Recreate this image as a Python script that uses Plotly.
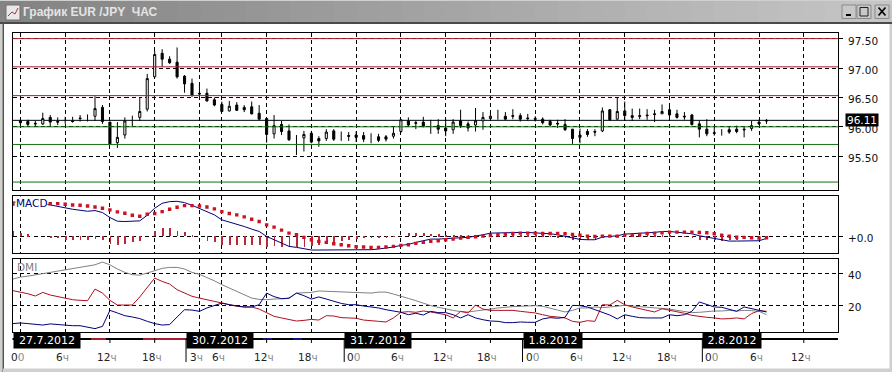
import plotly.graph_objects as go

W, H = 892, 372
title_text = "График EUR /JPY  ЧАС"

# ---------- hourly candles, bar index 0 = 27.7.2012 00:00 ----------
high = [96.13,96.12,96.10,96.24,96.20,96.16,96.17,96.17,96.20,96.21,96.52,96.37,96.08,96.08,96.16,96.19,96.50,96.90,97.29,97.32,
        97.20,97.35,96.88,96.82,96.71,96.65,96.50,96.43,96.44,96.42,96.37,96.43,96.37,96.14,96.20,96.10,96.04,95.86,95.93,95.93,
        95.84,95.96,95.96,95.92,95.91,95.92,95.91,95.89,95.88,95.86,96.00,96.13,96.16,96.10,96.17,96.12,96.13,96.14,96.13,96.29,
        96.09,96.32,96.25,96.26,96.29,96.25,96.30,96.23,96.22,96.18,96.16,96.12,96.12,96.13,95.96,95.97,95.96,95.96,96.33,96.30,
        96.49,96.43,96.31,96.31,96.30,96.29,96.38,96.37,96.29,96.25,96.22,96.10,96.13,95.99,95.96,96.00,96.02,96.00,96.10,96.12,96.13]
open_ = [96.10,96.09,96.06,96.05,96.16,96.09,96.11,96.10,96.15,96.13,96.18,96.33,96.08,95.73,95.86,96.11,96.16,96.30,96.85,97.25,
         97.15,97.10,96.86,96.74,96.57,96.57,96.46,96.38,96.27,96.37,96.33,96.34,96.23,96.14,95.88,96.04,95.93,95.76,95.81,95.89,
         95.80,95.80,95.93,95.86,95.85,95.86,95.85,95.83,95.83,95.83,95.84,95.92,96.10,96.07,96.08,96.06,96.02,95.98,95.95,96.10,
         96.05,96.03,96.10,96.14,96.18,96.18,96.19,96.19,96.15,96.14,96.13,96.09,96.06,96.04,95.96,95.86,95.92,95.92,95.93,96.29,
         96.13,96.27,96.19,96.19,96.20,96.22,96.22,96.29,96.22,96.18,96.20,96.05,95.96,95.90,95.91,95.95,95.96,95.96,95.97,96.08,96.11]
close = [96.07,96.04,96.05,96.14,96.08,96.08,96.10,96.09,96.14,96.12,96.31,96.09,95.71,95.82,96.10,96.10,96.26,96.82,97.23,97.15,
         97.09,96.85,96.73,96.54,96.56,96.44,96.37,96.26,96.35,96.28,96.29,96.22,96.13,95.87,96.02,95.92,95.78,95.75,95.87,95.74,
         95.76,95.91,95.79,95.85,95.84,95.82,95.79,95.82,95.77,95.79,95.89,96.12,96.03,96.06,96.01,96.05,95.96,95.93,96.08,96.02,
         95.98,96.10,96.16,96.18,96.17,96.13,96.18,96.13,96.14,96.13,96.07,96.03,96.05,95.95,95.80,95.82,95.87,95.91,96.27,96.12,
         96.26,96.19,96.16,96.18,96.19,96.21,96.26,96.20,96.16,96.17,96.04,95.96,95.88,95.89,95.90,95.91,95.92,95.95,96.02,96.05,96.10]
low = [96.03,96.01,96.01,96.03,96.01,96.03,96.05,96.07,96.09,96.09,96.10,96.05,95.71,95.64,95.80,96.01,96.10,96.26,96.85,97.02,
       97.07,96.82,96.58,96.51,96.48,96.43,96.35,96.25,96.26,96.27,96.25,96.21,96.12,95.73,95.80,95.86,95.76,95.52,95.58,95.72,
       95.66,95.76,95.76,95.76,95.76,95.74,95.74,95.72,95.74,95.75,95.80,95.90,96.01,95.96,95.99,95.88,95.88,95.84,95.88,95.98,
       95.92,95.92,95.95,96.10,96.12,96.12,96.13,96.09,96.10,96.09,96.04,96.01,95.98,95.93,95.71,95.72,95.83,95.84,95.91,96.10,
       96.12,96.10,96.10,96.13,96.12,96.08,96.22,96.13,96.14,96.12,96.02,95.82,95.84,95.85,95.85,95.88,95.89,95.82,95.93,96.03,96.05]
wick_only = [6, 9, 15, 37, 43, 47, 55, 64, 94]

resistance = [97.50, 97.02, 96.53]
support = [96.00, 95.70, 95.06]
last_price = 96.11
price_ticks = [97.5, 97.0, 96.5, 96.0, 95.5]
price_labels = ["97.50", "97.00", "96.50", "96.00", "95.50"]

# ---------- MACD, bar index -1 to 100, in pips ----------
macd_index = list(range(-1, 101))
macd_line = [103,102,101,99,97,94,89,84,81,78,75,77,71,56,45,44,44,46,63,84,99,104,105,101,93,83,75,64,49,43,37,29,21,14,-1,-11,-21,-31,-34,
             -39,-42,-42,-42,-42,-42,-42,-42,-42,-41,-39,-37,-33,-28,-25,-19,-13,-9,-9,-7,-7,-5,-4,-1,4,9,10,11,11,11,11,10,9,7,4,0,-6,-10,-11,-11,
             -3,-1,1,6,8,8,10,11,14,14,12,11,7,1,-3,-8,-13,-15,-15,-15,-15,-14,-7]
macd_signal = [97,101,101,100,99,98,98,96,94,93,91,88,84,79,73,69,63,60,66,68,74,81,87,92,92,91,88,82,74,68,64,58,51,44,34,27,18,9,4,
               -4,-11,-16,-19,-23,-26,-29,-32,-33,-34,-34,-33,-31,-28,-26,-22,-19,-16,-14,-11,-9,-6,-4,-2,0,2,4,6,8,9,9,9,8,8,8,7,5,3,0,-1,
               0,0,0,3,3,5,8,9,10,12,12,12,12,11,10,7,3,0,-3,-4,-5,-6,-5]
macd_hist = [14,9,6,0,0,-4,-7,-11,-11,-11,-11,-8,-12,-24,-26,-23,-17,-16,0,16,23,25,16,12,4,0,-14,-19,-27,-28,-28,-28,-28,-27,-33,-31,-33,-33,-33,
             -33,-31,-26,-23,-19,-16,-11,-9,-7,-6,-4,-3,-1,0,8,8,9,7,6,4,2,1,1,1,4,7,6,5,3,2,2,1,1,-1,-4,-7,-11,-13,-11,-11,
             -4,-2,-1,2,4,2,1,2,3,2,0,-1,-4,-11,-13,-13,-14,-13,-11,-10,-9,-8,-3]
macd_ticks = [0]
macd_labels = ["+0.0"]

# ---------- DMI, bar index -1 to 100 ----------
adx = [36.3,37.5,38.1,39.0,39.6,40.4,41.2,42.0,42.7,43.3,44.1,45.1,46.8,45.1,42.5,40.4,39.0,38.7,40.0,41.6,42.9,43.5,43.5,42.5,40.4,39.2,37.3,35.2,32.8,30.7,28.9,26.8,24.5,23.7,23.5,23.9,23.9,24.3,27.6,
       27.6,28.0,28.9,28.7,28.4,28.2,28.0,28.0,27.4,27.6,28.2,28.2,27.0,25.8,24.3,22.9,21.2,19.8,18.8,17.7,16.9,16.1,15.9,16.5,16.9,17.7,18.4,19.0,19.2,19.4,19.6,19.8,19.4,18.4,17.1,15.9,16.9,18.4,18.4,19.0,
       18.6,19.0,19.6,20.0,19.6,19.2,19.0,18.6,18.1,17.7,16.9,16.1,15.5,15.7,16.3,16.5,16.5,16.9,16.5,16.9,16.7,16.3,14.2]
plus_di = [29.1,28.2,27.2,25.8,28.0,26.4,25.4,24.5,23.5,23.1,22.9,30.1,27.6,23.1,20.2,20.2,20.2,25.2,30.7,36.9,34.8,33.2,29.7,27.6,25.6,24.5,23.5,22.5,21.4,20.4,19.4,19.0,19.0,17.7,15.3,13.2,12.2,11.1,10.3,
           10.7,11.3,10.9,13.6,13.4,12.4,12.2,12.0,10.9,10.3,10.1,9.7,12.2,15.7,16.1,15.7,16.5,15.9,15.1,14.2,12.2,16.3,15.3,20.2,17.7,16.9,16.9,16.9,16.9,16.3,15.9,15.3,14.2,13.2,12.8,12.2,10.1,9.5,10.5,10.1,
           20.4,20.2,23.1,20.4,19.0,18.1,16.9,15.9,17.9,17.1,15.9,15.1,13.8,13.0,12.6,12.2,11.6,11.8,12.2,11.6,14.9,16.7,16.3]
minus_di = [8.7,9.1,8.7,8.3,7.8,8.5,8.1,7.8,7.4,7.4,6.6,5.6,7.0,16.9,15.3,13.6,12.8,11.8,10.1,8.7,7.8,8.1,12.8,17.3,17.1,16.3,18.4,19.8,21.4,20.4,19.8,19.0,19.0,20.4,27.6,25.4,24.1,24.5,27.6,
            26.0,23.9,25.2,23.9,22.5,21.2,20.4,20.4,19.6,19.2,18.4,17.3,16.5,15.7,14.2,15.1,14.0,16.3,15.5,15.5,14.2,12.2,14.2,12.2,11.1,10.3,10.1,9.3,9.3,9.7,9.5,9.5,11.6,12.4,12.0,12.6,20.0,19.8,19.0,17.3,
            15.7,14.0,11.6,14.2,13.2,12.4,12.2,12.4,12.2,14.2,13.6,14.2,16.3,22.1,20.4,19.0,18.8,17.7,16.3,19.0,18.1,16.9,15.9]
dmi_ticks = [20, 40]
dmi_labels = ["20", "40"]

# ---------- time axis ----------
tick_index = [0, 6, 12, 18, 24, 27, 33, 39, 45, 51, 57, 63, 69, 75, 81, 87, 93, 99, 105]
tick_labels = ["00", "6ч", "12ч", "18ч", "3ч", "6ч", "12ч", "18ч", "00", "6ч", "12ч", "18ч", "00", "6ч", "12ч", "18ч", "00", "6ч", "12ч"]
date_labels = ["27.7.2012", "30.7.2012", "31.7.2012", "1.8.2012", "2.8.2012"]
date_index = [-1.05, 22.2, 43.4, 67.3, 91.4]

# ---------- geometry helpers ----------
px_per_bar = 7.461
x0_px = 20.4
def ix(px):
    return (px - x0_px) / px_per_bar
def py(px):
    return 1 - px / H
def fx(px):
    return px / W

xrange_ = [ix(12.5), ix(838)]
FONT = "DejaVu Sans"
RED = "#b82838"
NAVY = "#00007a"

fig = go.Figure()

idx = list(range(len(high)))
drawn = [i for i in idx if i not in wick_only]
fig.add_trace(go.Candlestick(
    x=drawn,
    open=[open_[i] for i in drawn], high=[high[i] for i in drawn],
    low=[low[i] for i in drawn], close=[close[i] for i in drawn],
    increasing=dict(line=dict(color="black", width=1), fillcolor="white"),
    decreasing=dict(line=dict(color="black", width=1), fillcolor="black"),
    whiskerwidth=0, xaxis="x", yaxis="y", showlegend=False))
wx, wy = [], []
for i in wick_only:
    wx += [i, i, None]
    wy += [low[i], high[i], None]
fig.add_trace(go.Scatter(x=wx, y=wy, mode="lines", line=dict(color="black", width=1),
                         xaxis="x", yaxis="y", showlegend=False))

fig.add_trace(go.Bar(x=macd_index, y=macd_hist, width=0.1, marker=dict(color=RED, line=dict(width=0)),
                     xaxis="x2", yaxis="y2", showlegend=False))
fig.add_trace(go.Scatter(x=macd_index, y=macd_line, mode="lines", line=dict(color=NAVY, width=1),
                         xaxis="x2", yaxis="y2", showlegend=False))
fig.add_trace(go.Scatter(x=macd_index, y=macd_signal, mode="markers",
                         marker=dict(color="#cc1122", size=3.4, symbol="square", line=dict(width=0)),
                         xaxis="x2", yaxis="y2", showlegend=False))

fig.add_trace(go.Scatter(x=macd_index, y=adx, mode="lines", line=dict(color="#808080", width=1),
                         xaxis="x3", yaxis="y3", showlegend=False))
fig.add_trace(go.Scatter(x=macd_index, y=plus_di, mode="lines", line=dict(color="#b01020", width=1),
                         xaxis="x3", yaxis="y3", showlegend=False))
fig.add_trace(go.Scatter(x=macd_index, y=minus_di, mode="lines", line=dict(color=NAVY, width=1),
                         xaxis="x3", yaxis="y3", showlegend=False))

xcommon = dict(range=xrange_, domain=[fx(12.5), fx(838)], tickmode="array", tickvals=tick_index,
               showticklabels=False, ticks="", showgrid=True, gridcolor="black", griddash="4px,3px", gridwidth=1,
               showline=True, linecolor="black", linewidth=1, mirror=True, zeroline=False, rangeslider=dict(visible=False))
ycommon = dict(side="right", tickmode="array", ticks="outside", ticklen=4, tickcolor="black", tickwidth=1,
               showgrid=True, gridcolor="black", griddash="4px,3px", gridwidth=1, showticklabels=False,
               showline=True, linecolor="black", linewidth=1, mirror=True, zeroline=False)

shapes = []
def rect(x0, y0, x1, y1, fill, line=None):
    shapes.append(dict(type="rect", xref="paper", yref="paper", x0=fx(x0), x1=fx(x1), y0=py(y0), y1=py(y1),
                       fillcolor=fill, line=dict(color=line or fill, width=1 if line else 0), layer="below"))
def seg(x0, y0, x1, y1, color, width=1):
    shapes.append(dict(type="line", xref="paper", yref="paper", x0=fx(x0), x1=fx(x1), y0=py(y0), y1=py(y1),
                       line=dict(color=color, width=width), layer="above"))

# window chrome
rect(0, 0, 892, 22, "#d0d0d0")
steps = 40
for k in range(steps):
    g = int(132 + (198 - 132) * k / (steps - 1))
    rect(892 * k / steps, 1, 892 * (k + 1) / steps + 1, 22, f"rgb({g},{g},{g})")
rect(0, 22, 892, 24, "#4a4a4a")
rect(0, 24, 2.5, 372, "#d0d0cc")
rect(2.5, 22, 4, 372, "#505050")
rect(889.5, 24, 892, 372, "#d0d0cc")
rect(3, 368.5, 892, 372, "#d0d0cc")
# window icon and buttons
rect(6, 5, 20, 20, "#e8e8e8", "#707070")
seg(8, 16, 12, 12, "#b03030"); seg(12, 12, 15, 14, "#b03030"); seg(15, 14, 18, 8, "#b03030")
for bx0, bx1 in [(842, 856), (857, 871), (875, 889)]:
    rect(bx0, 5, bx1, 18.5, "#c8c8c8", "#8a8a8a")
seg(846, 15, 851, 15, "black", 2)
rect(860, 7.5, 868, 16, "rgba(0,0,0,0)", "#202020")
seg(878.5, 7.5, 885.5, 15.5, "black", 1.6); seg(885.5, 7.5, 878.5, 15.5, "black", 1.6)

# price levels
for v in resistance:
    shapes.append(dict(type="line", xref="x domain", yref="y", x0=0, x1=1, y0=v, y1=v, line=dict(color="#a81c2c", width=1), layer="above"))
for v in support:
    shapes.append(dict(type="line", xref="x domain", yref="y", x0=0, x1=1, y0=v, y1=v, line=dict(color="#127012", width=1), layer="above"))
shapes.append(dict(type="line", xref="x domain", yref="y", x0=0, x1=1, y0=last_price, y1=last_price, line=dict(color="black", width=1), layer="below"))

# timeline
seg(12.5, 339, 838, 339, "black", 2)
seg(91, 339, 106, 339, "#a81c2c", 2); seg(143, 339, 186, 339, "#a81c2c", 2)
seg(263, 339, 272, 339, "#10108a", 2); seg(293, 339, 302, 339, "#10108a", 2)
for t in tick_index:
    shapes.append(dict(type="line", xref="x3", yref="paper", x0=t, x1=t, y0=py(338), y1=py(343), line=dict(color="black", width=1), layer="above"))
for d in date_index[1:]:
    shapes.append(dict(type="line", xref="x3", yref="paper", x0=d, x1=d, y0=py(339), y1=py(362), line=dict(color="black", width=1), layer="above"))

annotations = []
annotations.append(dict(text=title_text, xref="paper", yref="paper", x=fx(21), y=py(12), xanchor="left", yanchor="middle",
                        showarrow=False, font=dict(family="Liberation Sans", size=12, weight="bold", color="#e4e4e4")))
annotations.append(dict(text="MACD", xref="paper", yref="paper", x=fx(15), y=py(203.5), xanchor="left", yanchor="middle",
                        showarrow=False, bgcolor="white", borderpad=0, font=dict(family=FONT, size=10.5, color=NAVY)))
annotations.append(dict(text="DMI", xref="paper", yref="paper", x=fx(15), y=py(266.5), xanchor="left", yanchor="middle",
                        showarrow=False, font=dict(family=FONT, size=10.5, color="#808080")))

def right_labels(vals, labs, yref):
    for v, lab in zip(vals, labs):
        annotations.append(dict(text=lab, xref="paper", yref=yref, x=fx(845.5), y=v, xanchor="left", yanchor="middle", yshift=-2,
                                showarrow=False, font=dict(family=FONT, size=10.5, color="#111111")))
right_labels(price_ticks, price_labels, "y")
right_labels(macd_ticks, macd_labels, "y2")
right_labels(dmi_ticks, dmi_labels, "y3")

annotations.append(dict(text=f"{last_price:.2f}", xref="paper", yref="y", x=fx(845), y=last_price, xanchor="left", yanchor="middle",
                        showarrow=False, bgcolor="black", borderpad=0, width=32, height=12, align="center",
                        font=dict(family=FONT, size=10.5, color="white")))
for t, lab in zip(tick_index, tick_labels):
    txt = lab[:-1] + f'<span style="color:#8a8a8a">{lab[-1]}</span>'
    annotations.append(dict(text=txt, xref="x3", yref="paper", x=t, y=py(357), xanchor="center", yanchor="middle", xshift=-3,
                            showarrow=False, font=dict(family=FONT, size=10.5, color="#222222")))
for d, lab in zip(date_index, date_labels):
    annotations.append(dict(text=lab, xref="x3", yref="paper", x=d, y=py(340.5), xanchor="left", yanchor="middle",
                            width=66 if len(lab) > 8 else 58, height=15, align="center",
                            showarrow=False, bgcolor="black", borderpad=0, font=dict(family=FONT, size=11, color="white")))

fig.update_layout(
    width=W, height=H, margin=dict(l=0, r=0, t=0, b=0), autosize=False,
    paper_bgcolor="white", plot_bgcolor="white", showlegend=False, boxgap=0.6, bargap=0,
    xaxis=dict(anchor="y", **xcommon),
    xaxis2=dict(anchor="y2", **xcommon),
    xaxis3=dict(anchor="y3", **xcommon),
    yaxis=dict(anchor="x", domain=[py(190), py(32.5)], range=[94.925, 97.604], tickvals=price_ticks, **ycommon),
    yaxis2=dict(anchor="x2", domain=[py(253), py(196)], range=[-51, 121], tickvals=macd_ticks, **ycommon),
    yaxis3=dict(anchor="x3", domain=[py(332), py(259)], range=[3.5, 48.7], tickvals=dmi_ticks, **ycommon),
    shapes=shapes, annotations=annotations,
)

fig.write_html("out.html", config=dict(displayModeBar=False),
               post_script="document.body.style.margin='0';document.body.style.overflow='hidden';")
